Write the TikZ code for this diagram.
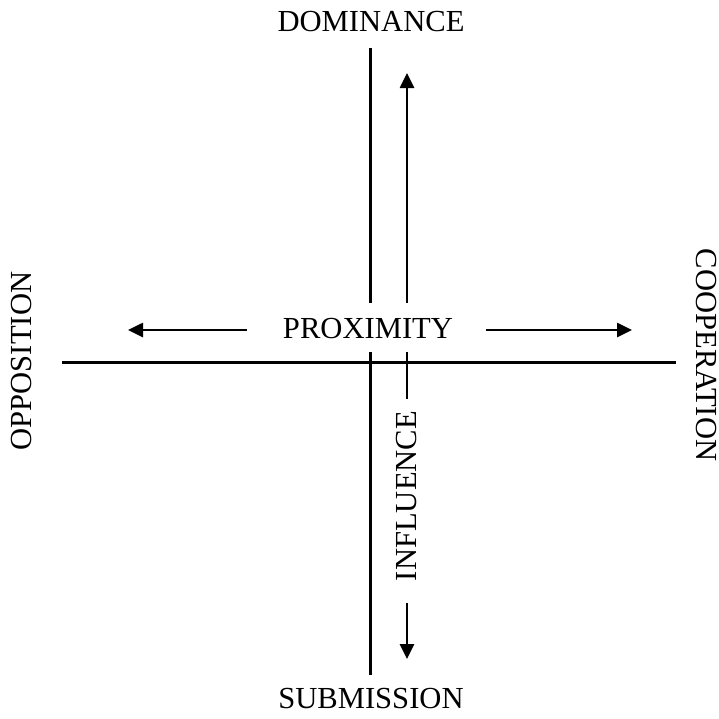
\documentclass[tikz,border=0pt]{standalone}
\usepackage{fontspec}
\setmainfont{Liberation Serif}
\usetikzlibrary{arrows.meta}

\tikzset{
  axe/.style={line width=1.5pt},
  fleche/.style={line width=1.3pt,-{Triangle[length=7.5pt,width=7pt]}},
  mot/.style={font=\fontsize{15.3}{18}\selectfont,inner sep=0pt}
}

\begin{document}
\begin{tikzpicture}[x=0.5pt,y=-0.5pt]
        \useasboundingbox (0,0) rectangle (719,719);
        % Titres
        \path(371,22) node[mot](dom){DOMINANCE};
        \path(371,699) node[mot](sub){SUBMISSION};
        \path(22,361) node[mot,rotate=90](opp){OPPOSITION};
        \path(706,355) node[mot,rotate=-90](coop){COOPERATION};
        \path(368,329) node[mot](prox){PROXIMITY};
        \path(407,496) node[mot,rotate=90](infl){INFLUENCE};
        % Points
        \coordinate (vhaut) at (370,48);
        \coordinate (vcoupe1) at (370,303);
        \coordinate (vcoupe2) at (370,352);
        \coordinate (vbas) at (370,675);
        \coordinate (hg) at (62,362);
        \coordinate (hd) at (676,362);
        \coordinate (ih1) at (407,303);
        \coordinate (ih2) at (407,73);
        \coordinate (im1) at (407,352);
        \coordinate (im2) at (407,399);
        \coordinate (ib1) at (407,603);
        \coordinate (ib2) at (407,659);
        \coordinate (pg1) at (247,330);
        \coordinate (pg2) at (128,330);
        \coordinate (pd1) at (486,330);
        \coordinate (pd2) at (632,330);
        % Axes
        \draw[axe](vhaut) -- (vcoupe1);
        \draw[axe](vcoupe2) -- (vbas);
        \draw[axe](hg) -- (hd);
        % Influence
        \draw[fleche](ih1) -- (ih2);
        \draw[axe,line width=1.3pt](im1) -- (im2);
        \draw[fleche](ib1) -- (ib2);
        % Proximite
        \draw[fleche](pg1) -- (pg2);
        \draw[fleche](pd1) -- (pd2);
     \end{tikzpicture}
\end{document}
